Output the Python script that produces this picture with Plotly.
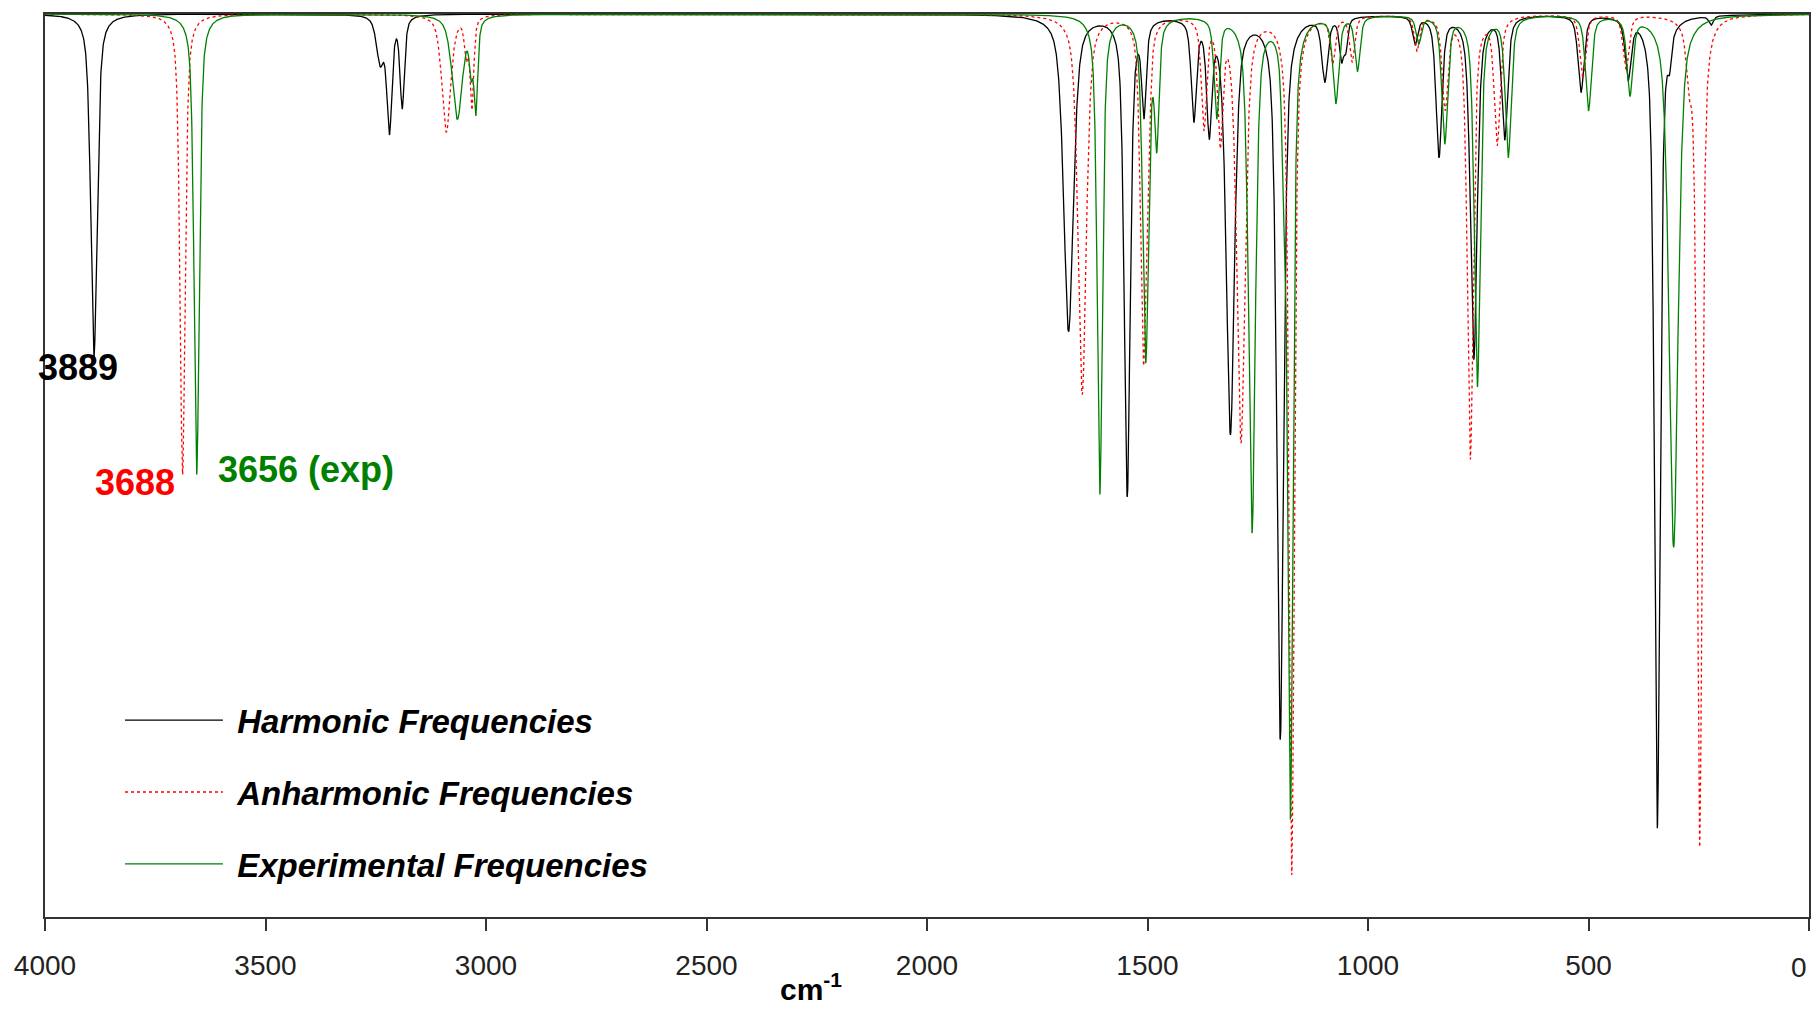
import numpy as np
import plotly.graph_objects as go

# ---------------- data ----------------
tick_values = [4000, 3500, 3000, 2500, 2000, 1500, 1000, 500, 0]
tick_labels = ["4000", "3500", "3000", "2500", "2000", "1500", "1000", "500", "0"]

series_names = ["Harmonic Frequencies", "Anharmonic Frequencies", "Experimental Frequencies"]

# band positions (cm-1), band depths (fraction of the plot height), band widths (cm-1)
harm_pos = [3889, 3240, 3219, 3190, 1679, 1546, 1508, 1395, 1360, 1312, 1199, 1098, 1060, 1050,
            893, 839, 760, 690, 517, 410, 344, 316, 222]
harm_int = [0.38, 0.05, 0.125, 0.10, 0.35, 0.53, 0.10, 0.11, 0.12, 0.46, 0.80, 0.07, 0.045, 0.03,
            0.03, 0.155, 0.38, 0.135, 0.085, 0.066, 0.90, 0.03, 0.01]
harm_wid = [17, 20, 14, 12, 26, 16, 12, 14, 14, 22, 18, 16, 12, 10,
            14, 16, 18, 16, 16, 16, 15, 10, 12]

anh_pos = [3688, 3090, 3045, 3032, 1648, 1509, 1497, 1372, 1335, 1288, 1173, 1080, 1036,
           889, 825, 768, 707, 513, 415, 272, 248]
anh_int = [0.51, 0.13, 0.04, 0.10, 0.42, 0.38, 0.07, 0.12, 0.13, 0.47, 0.95, 0.05, 0.05,
           0.038, 0.10, 0.49, 0.14, 0.07, 0.06, 0.05, 0.92]
anh_wid = [14, 24, 10, 10, 22, 16, 10, 14, 14, 22, 14, 14, 14,
           14, 16, 16, 16, 16, 16, 14, 14]

exp_pos = [3656, 3065, 3034, 3023, 1608, 1504, 1479, 1343, 1263, 1191, 1176, 1073, 1024,
           885, 826, 752, 682, 500, 406, 307]
exp_int = [0.51, 0.115, 0.05, 0.10, 0.53, 0.38, 0.13, 0.11, 0.57, 0.12, 0.88, 0.095, 0.06,
           0.03, 0.14, 0.41, 0.155, 0.105, 0.085, 0.59]
exp_wid = [14, 28, 10, 10, 14, 16, 12, 14, 18, 10, 14, 16, 14,
           14, 16, 16, 16, 16, 16, 24]

peak_labels = ["3889", "3688", "3656 (exp)"]
peak_label_x = [3926, 3797, 3409]
peak_label_y = [0.392, 0.519, 0.504]
peak_label_colors = ["#000000", "#ff0000", "#008000"]

# ---------------- line shape (pseudo-Voigt bands) ----------------
grid = np.arange(4000.0, -0.25, -0.5)


def spectrum(pos, inten, wid, eta=0.6):
    y = np.zeros_like(grid)
    for p, a, w in zip(pos, inten, wid):
        d = (grid - p) / w
        lor = 1.0 / (1.0 + 4.0 * d * d)
        gau = np.exp(-4.0 * np.log(2.0) * d * d)
        y += a * (eta * lor + (1.0 - eta) * gau)
    return y


series = [
    (series_names[0], spectrum(harm_pos, harm_int, harm_wid), "#000000", "solid"),
    (series_names[1], spectrum(anh_pos, anh_int, anh_wid), "#ff0000", "3px,3px"),
    (series_names[2], spectrum(exp_pos, exp_int, exp_wid), "#008000", "solid"),
]

fig = go.Figure()
for i, (name, y, col, dash) in enumerate(series):
    fig.add_trace(go.Scatter(
        x=grid, y=y, mode="lines", name="\u00a0" + name, legendgroup=f"g{i}",
        line=dict(color=col, width=1.3, dash=dash),
    ))

for txt, xv, yv, col in zip(peak_labels, peak_label_x, peak_label_y, peak_label_colors):
    fig.add_annotation(x=xv, y=yv, xref="x", yref="y", text=txt, showarrow=False,
                       xanchor="center", yanchor="middle",
                       font=dict(family="Liberation Sans, Arial, sans-serif", size=36,
                                 color=col, weight="bold"))

fig.add_annotation(x=0.434, y=-0.078, xref="paper", yref="paper",
                   text="cm<sup>-1</sup>", showarrow=False, xanchor="center", yanchor="middle",
                   font=dict(family="Liberation Sans, Arial, sans-serif", size=30,
                             color="#000000", weight="bold"))

tick_font = dict(family="Liberation Sans, Arial, sans-serif", size=28, color="#222222")

# the last tick label sits on the figure's right edge: draw it right-aligned to its tick
fig.add_annotation(x=tick_values[-1], y=-0.0554, xref="x", yref="paper",
                   text=tick_labels[-1], showarrow=False, xanchor="right", yanchor="middle",
                   font=tick_font)

# the page adds an 8 px body margin, so the figure is sized to fit the window exactly
fig.update_layout(
    width=1804, height=997,
    margin=dict(l=37, r=1, t=6, b=88),
    paper_bgcolor="white", plot_bgcolor="white",
    showlegend=True,
    legend=dict(
        x=0.0425, y=0.249, xanchor="left", yanchor="top",
        bgcolor="rgba(0,0,0,0)", borderwidth=0,
        itemwidth=98, tracegroupgap=26, traceorder="grouped",
        font=dict(family="Liberation Sans, Arial, sans-serif", size=33,
                  color="#000000", weight="bold", style="italic"),
    ),
    xaxis=dict(
        range=[4000, 0], tickmode="array", tickvals=tick_values,
        ticktext=tick_labels[:-1] + [""],
        ticks="outside", ticklen=12, tickwidth=1.5, tickcolor="#333333",
        showline=True, linecolor="#333333", linewidth=2, mirror=True,
        showgrid=False, zeroline=False, ticklabelstandoff=10,
        tickfont=tick_font,
    ),
    yaxis=dict(
        range=[1.0, 0.0], showticklabels=False, ticks="",
        showline=True, linecolor="#333333", linewidth=2, mirror=True,
        showgrid=False, zeroline=False,
    ),
)

fig.write_html("out.html")
